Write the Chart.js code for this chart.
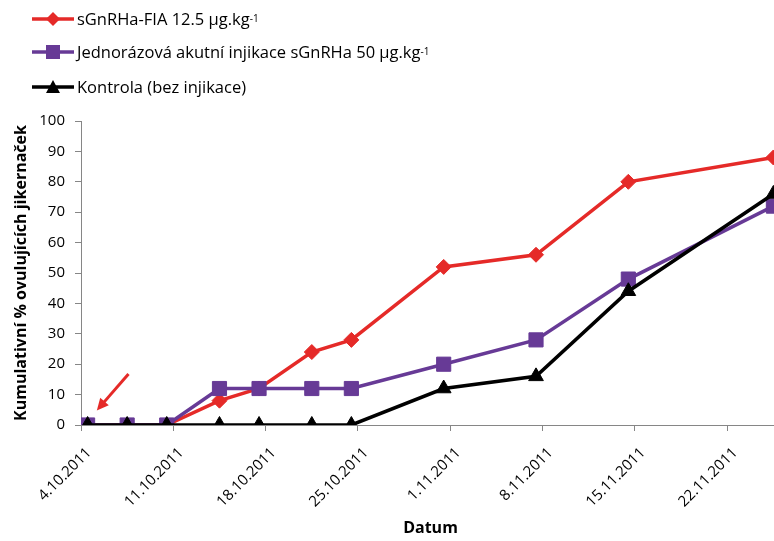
<!DOCTYPE html>
<html>
<head>
<meta charset="utf-8">
<script src="https://cdn.jsdelivr.net/npm/chart.js@4.4.1/dist/chart.umd.min.js"></script>
<style>
  html, body { margin: 0; padding: 0; background: #fff; overflow: hidden; }
  #wrap { position: relative; width: 774px; height: 541px; overflow: hidden; }
  #chart { position: absolute; left: 0; top: 0; }
  .leg { position: absolute; left: 30px; font-family: "Open Sans", sans-serif; font-size: 16.5px; color: #000; display: flex; align-items: center; white-space: nowrap; }
  .leg svg { margin-right: 1px; }
  .leg sup { font-size: 10px; position: relative; top: -1px; }
</style>
</head>
<body>
<div id="wrap">
  <canvas id="chart" width="782" height="541"></canvas>
  <div class="leg" style="top:7px"><svg width="46" height="20"><line x1="2" y1="10" x2="44" y2="10" stroke="#e52a28" stroke-width="3.5"/><polygon points="23,3 30,10 23,17 16,10" fill="#e52a28"/></svg>sGnRHa-FIA 12.5 µg.kg<sup>-1</sup></div>
  <div class="leg" style="top:40px"><svg width="46" height="20"><line x1="2" y1="10" x2="44" y2="10" stroke="#673a96" stroke-width="3.5"/><rect x="16" y="3" width="14" height="14" fill="#673a96"/></svg>Jednorázová akutní injikace sGnRHa 50 µg.kg<sup>-1</sup></div>
  <div class="leg" style="top:75px"><svg width="46" height="20"><line x1="2" y1="10" x2="44" y2="10" stroke="#000" stroke-width="3.5"/><polygon points="23,3 30,16 16,16" fill="#000"/></svg>Kontrola (bez injikace)</div>
</div>
<script>
// sampling dates and cumulative % of ovulated females
const dates = ["4.10.2011", "7.10.2011", "10.10.2011", "14.10.2011", "17.10.2011", "21.10.2011",
  "24.10.2011", "31.10.2011", "7.11.2011", "14.11.2011", "25.11.2011"];
const fiaValues = [0, 0, 0, 8, 12, 24, 28, 52, 56, 80, 88];
const acuteValues = [0, 0, 0, 12, 12, 12, 12, 20, 28, 48, 72];
const controlValues = [0, 0, 0, 0, 0, 0, 0, 12, 16, 44, 76];

const tickLabels = ["4.10.2011", "11.10.2011", "18.10.2011", "25.10.2011", "1.11.2011",
  "8.11.2011", "15.11.2011", "22.11.2011"];
const axisEnd = "26.11.2011";
const yTicks = [0, 10, 20, 30, 40, 50, 60, 70, 80, 90, 100];

function toDate(s) {
  const [d, m, y] = s.split(".").map(Number);
  return new Date(y, m - 1, d);
}
const start = toDate(dates[0]);
function dayIndex(s) {
  return Math.round((toDate(s) - start) / 86400000);
}

// points sit in the middle of their day, like an Excel date axis
function toPoints(values) {
  return values.map((v, i) => ({ x: dayIndex(dates[i]) + 0.5, y: v }));
}

const tickValues = tickLabels.map(dayIndex);
const labelFor = {};
tickLabels.forEach((t, i) => { labelFor[tickValues[i]] = t; });

const axisColor = "#868686";
const font = { family: "'Open Sans', sans-serif", size: 15 };
const titleFont = { family: "'Open Sans', sans-serif", size: 16, weight: "bold" };

const arrowPlugin = {
  id: "arrow",
  afterDatasetsDraw(chart) {
    const { ctx, scales } = chart;
    const x1 = scales.x.getPixelForValue(3.6), y1 = scales.y.getPixelForValue(16.8);
    const x2 = scales.x.getPixelForValue(1.2), y2 = scales.y.getPixelForValue(4.8);
    const ang = Math.atan2(y2 - y1, x2 - x1);
    ctx.save();
    ctx.strokeStyle = "#e52a28";
    ctx.fillStyle = "#e52a28";
    ctx.lineWidth = 3;
    ctx.beginPath();
    ctx.moveTo(x1, y1);
    ctx.lineTo(x2 - Math.cos(ang) * 6, y2 - Math.sin(ang) * 6);
    ctx.stroke();
    ctx.beginPath();
    ctx.moveTo(x2, y2);
    ctx.lineTo(x2 - Math.cos(ang - 0.45) * 13, y2 - Math.sin(ang - 0.45) * 13);
    ctx.lineTo(x2 - Math.cos(ang + 0.45) * 13, y2 - Math.sin(ang + 0.45) * 13);
    ctx.closePath();
    ctx.fill();
    ctx.restore();
  }
};

new Chart(document.getElementById("chart"), {
  type: "line",
  data: {
    datasets: [
      {
        label: "sGnRHa-FIA 12.5 µg.kg-1",
        data: toPoints(fiaValues),
        borderColor: "#e52a28",
        backgroundColor: "#e52a28",
        borderWidth: 3.5,
        pointStyle: "rectRot",
        pointRadius: 7.5,
        pointBorderWidth: 1,
        order: 3
      },
      {
        label: "Jednorázová akutní injikace sGnRHa 50 µg.kg-1",
        data: toPoints(acuteValues),
        borderColor: "#673a96",
        backgroundColor: "#673a96",
        borderWidth: 3.5,
        pointStyle: "rect",
        pointRadius: 10,
        pointBorderWidth: 1,
        order: 2
      },
      {
        label: "Kontrola (bez injikace)",
        data: toPoints(controlValues),
        borderColor: "#000",
        backgroundColor: "#000",
        borderWidth: 3.5,
        pointStyle: "triangle",
        pointRadius: 8.5,
        pointBorderWidth: 1,
        order: 1
      }
    ]
  },
  options: {
    responsive: false,
    animation: false,
    layout: { autoPadding: false, padding: { top: 121, left: 0, right: 2, bottom: 0 } },
    plugins: { legend: { display: false }, tooltip: { enabled: false } },
    scales: {
      x: {
        type: "linear",
        min: 0,
        max: dayIndex(axisEnd),
        afterFit(scale) {
          scale.height = 116;
          scale.paddingLeft = 0;
          scale.paddingRight = 0;
        },
        afterBuildTicks(scale) { scale.ticks = tickValues.map(v => ({ value: v })); },
        border: { color: axisColor, width: 1 },
        grid: { drawOnChartArea: false, drawTicks: true, tickLength: 6, color: axisColor },
        ticks: {
          font: font,
          color: "#000",
          minRotation: 45,
          maxRotation: 45,
          padding: 13,
          labelOffset: 8,
          callback: v => labelFor[v] || ""
        },
        title: {
          display: true,
          text: "Datum",
          font: titleFont,
          color: "#000",
          padding: { top: 4, bottom: 3 }
        }
      },
      y: {
        min: 0,
        max: 100,
        afterFit(scale) {
          scale.width = 81;
          scale.paddingTop = 0;
          scale.paddingBottom = 0;
        },
        afterBuildTicks(scale) { scale.ticks = yTicks.map(v => ({ value: v })); },
        border: { color: axisColor, width: 1 },
        grid: { drawOnChartArea: false, drawTicks: true, tickLength: 6, color: axisColor },
        ticks: { font: font, color: "#000", padding: 10 },
        title: {
          display: true,
          text: "Kumulativní % ovulujících jikernaček",
          font: titleFont,
          color: "#000",
          padding: { top: 12, bottom: 0 }
        }
      }
    }
  },
  plugins: [arrowPlugin]
});
</script>
</body>
</html>
